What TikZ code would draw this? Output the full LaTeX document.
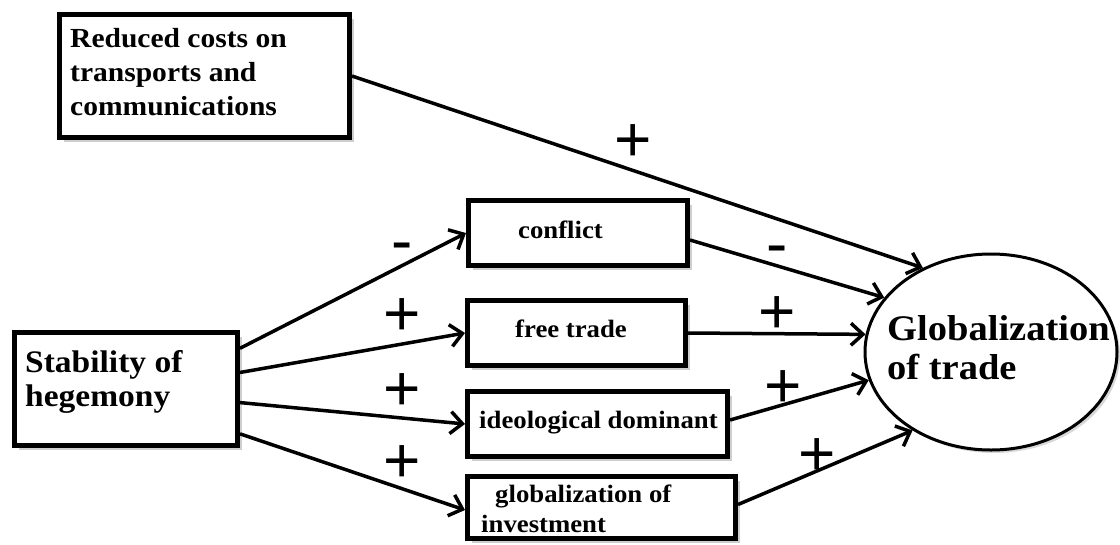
\documentclass[tikz,border=0pt]{standalone}
\usepackage{fontspec}
\setmainfont{Liberation Serif}[FakeStretch=1.07]
\newfontfamily\signfont{Liberation Sans}
\usetikzlibrary{arrows.meta,shapes.geometric,shadows,calc}
\begin{document}
\begin{tikzpicture}[x=1pt,y=-1pt,
  box/.style={draw, line width=5pt, fill=white, inner sep=0pt,
    drop shadow={shadow xshift=4pt, shadow yshift=-4pt, fill=black!35, opacity=0.55}},
  lbl/.style={anchor=base west, inner sep=0pt},
  small/.style={font=\bfseries\fontsize{25}{30}\selectfont},
  arr/.style={line width=3.5pt, -{Straight Barb[length=12pt,width=22pt]}},
  sgn/.style={inner sep=0pt, anchor=base, font=\signfont\fontsize{64}{64}\selectfont}]
\useasboundingbox (0,0) rectangle (1120,544);

% boxes
\node[box, minimum width=290pt, minimum height=123pt] (r) at (204.5,76) {};
\node[box, minimum width=219pt, minimum height=65pt] (c) at (578,233) {};
\node[box, minimum width=218pt, minimum height=65pt] (f) at (576.5,333) {};
\node[box, minimum width=260pt, minimum height=65pt] (i) at (597.5,424) {};
\node[box, minimum width=268pt, minimum height=62pt] (v) at (601.5,507.5) {};
\node[box, minimum width=223pt, minimum height=113pt] (s) at (126,389) {};
\node[draw, ellipse, line width=3pt, fill=white, inner sep=0pt,
  minimum width=252pt, minimum height=196pt,
  drop shadow={shadow xshift=3pt, shadow yshift=-3pt, fill=black!30, opacity=0.5}] (g) at (991,352) {};

% texts
\node[lbl, font=\bfseries\fontsize{27.6}{34}\selectfont] (rt) at (70,47)
  {\vtop{\hbox{Reduced costs on}\hbox{transports and}\hbox{communications}}};
\node[lbl, small] (ct) at (518,238) {conflict};
\node[lbl, small] (ft) at (515,337) {free trade};
\node[lbl, small] (it) at (479,428) {ideological dominant};
\node[lbl, small] (vt) at (495,502) {\vtop{\hbox{globalization of}\hbox{\kern-14pt investment}}};
\node[lbl, font=\bfseries\fontsize{31.3}{34}\selectfont] (st) at (25,372)
  {\vtop{\hbox{Stability of}\hbox{hegemony}}};
\node[lbl, font=\bfseries\fontsize{36}{39}\selectfont] (gt) at (887,340)
  {\vtop{\hbox{Globalization}\hbox{of trade}}};

% connectors
\draw[arr] (r.east) -- (g.129.6);
\draw[arr] ($(c.east)+(0,7)$) -- (g.153);
\draw[arr] (f.east) -- (g.172.5);
\draw[arr] ($(i.east)+(0,-4)$) -- (g.193.8);
\draw[arr] ($(v.east)+(0,-3)$) -- (g.225.8);
\draw[arr] ($(s.north east)!0.155!(s.south east)$) -- (c.west);
\draw[arr] ($(s.north east)!0.36!(s.south east)$) -- (f.west);
\draw[arr] ($(s.north east)!0.615!(s.south east)$) -- (i.west);
\draw[arr] ($(s.north east)!0.88!(s.south east)$) -- ($(v.west)+(0,2.5)$);

% signs
\node[sgn] (p1) at (633,161.7) {+};
\node[sgn] (m1) at (777,265.7) {-};
\node[sgn] (p2) at (777,333.7) {+};
\node[sgn] (p3) at (783,407.7) {+};
\node[sgn] (p4) at (817,475.7) {+};
\node[sgn] (m2) at (402,262.7) {-};
\node[sgn] (p5) at (402,335.7) {+};
\node[sgn] (p6) at (402,410.7) {+};
\node[sgn] (p7) at (402,482.7) {+};
\end{tikzpicture}
\end{document}
